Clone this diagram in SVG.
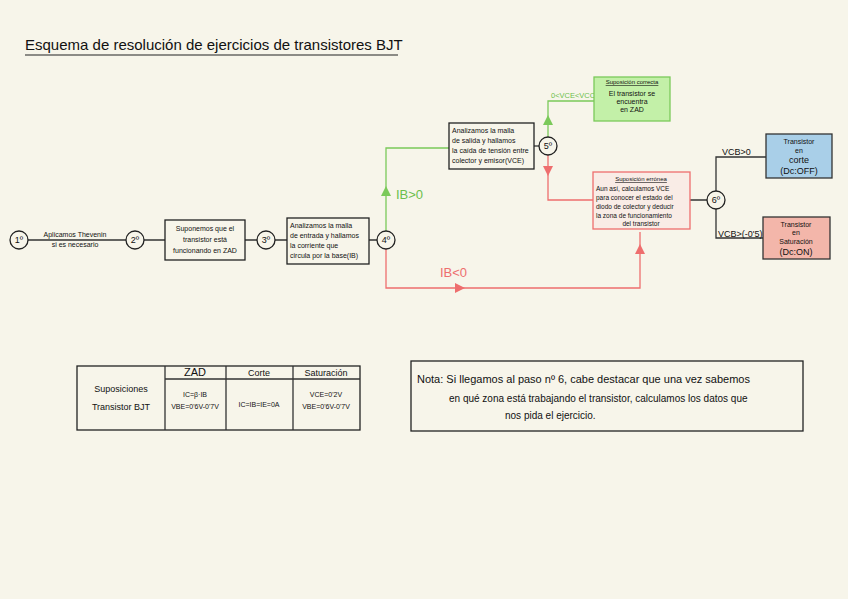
<svg xmlns="http://www.w3.org/2000/svg" width="848" height="599" viewBox="0 0 848 599">
<defs>
<style>
text{font-family:"Liberation Sans",Arial,sans-serif;fill:#111;}
.s{font-size:7px;} .m{font-size:9px;} .l{font-size:11px;}
.box{fill:none;stroke:#222;stroke-width:1.3;}
.c{fill:#f7f5ea;stroke:#222;stroke-width:1.3;}
.k{stroke:#333;stroke-width:1.3;fill:none;}
.g{stroke:#7bc95a;stroke-width:1.3;fill:none;}
.r{stroke:#ee6e6e;stroke-width:1.3;fill:none;}
</style>
</defs>
<rect width="848" height="599" fill="#f7f5ea"/>
<text x="25" y="50" style="font-size:15px">Esquema de resolución de ejercicios de transistores BJT</text>
<line x1="25" y1="55" x2="398" y2="55" stroke="#222" stroke-width="1.2"/>
<g id="connectors">
<path class="k" d="M28 240H126M144 240H165M245 240H257M275 240H287M369 240H377"/>
<path class="g" d="M386 231V148H449"/>
<polygon points="386,186 381,196 391,196" fill="#7bc95a"/>
<path class="r" d="M386 249V288H640V232"/>
<polygon points="465,288 455,283 455,293" fill="#ee6e6e"/>
<polygon points="640,244 635,254 645,254" fill="#ee6e6e"/>
<path class="k" d="M534 146H539"/>
<path class="g" d="M548 137V101H594"/>
<polygon points="548,115 543,125 553,125" fill="#7bc95a"/>
<path class="r" d="M548 155V200H593"/>
<polygon points="548,176 543,166 553,166" fill="#ee6e6e"/>
<path class="k" d="M690 200H707M716 191V157H766M716 209V238H763"/>
</g>
<g id="n1"><circle class="c" cx="19" cy="240" r="9"/><text x="19" y="243" class="m" text-anchor="middle">1º</text>
<text x="75" y="237" class="s" text-anchor="middle">Aplicamos Thevenin</text><text x="75" y="247" class="s" text-anchor="middle">si es necesario</text></g>
<g id="n2"><circle class="c" cx="135" cy="240" r="9"/><text x="135" y="243" class="m" text-anchor="middle">2º</text></g>
<g id="b2"><rect class="box" x="165" y="220" width="80" height="40"/>
<text x="205" y="231" class="s" text-anchor="middle">Suponemos que el</text><text x="205" y="242" class="s" text-anchor="middle">transistor está</text><text x="205" y="253" class="s" text-anchor="middle">funcionando en ZAD</text></g>
<g id="n3"><circle class="c" cx="266" cy="240" r="9"/><text x="266" y="243" class="m" text-anchor="middle">3º</text></g>
<g id="b3"><rect class="box" x="287" y="218" width="82" height="46"/>
<text x="290" y="228" class="s">Analizamos la malla</text><text x="290" y="238" class="s">de entrada y hallamos</text><text x="290" y="248" class="s">la corriente que</text><text x="290" y="258" class="s">circula por la base(IB)</text></g>
<g id="n4"><circle class="c" cx="386" cy="240" r="9"/><text x="386" y="243" class="m" text-anchor="middle">4º</text></g>
<text x="396" y="199" style="font-size:13px;fill:#6cbf4a">IB&gt;0</text>
<text x="440" y="277" style="font-size:13px;fill:#ee6e6e">IB&lt;0</text>
<g id="b5"><rect class="box" x="449" y="123" width="85" height="46"/>
<text x="452" y="133" class="s">Analizamos la malla</text><text x="452" y="143" class="s">de salida y hallamos</text><text x="452" y="153" class="s">la caída de tensión entre</text><text x="452" y="163" class="s">colector y emisor(VCE)</text></g>
<g id="n5"><circle class="c" cx="548" cy="146" r="9"/><text x="548" y="149" class="m" text-anchor="middle">5º</text></g>
<text x="551" y="98" style="font-size:7.5px;fill:#6cbf4a">0&lt;VCE&lt;VCC</text>
<g id="bg"><rect x="594" y="77" width="76" height="44" fill="#c3f0a8" stroke="#7bc95a" stroke-width="1.3"/>
<text x="632" y="84" class="s" text-anchor="middle" text-decoration="underline" style="font-size:6px">Suposición correcta</text>
<text x="632" y="96" class="s" text-anchor="middle">El transistor se</text><text x="632" y="104" class="s" text-anchor="middle">encuentra</text><text x="632" y="112" class="s" text-anchor="middle">en ZAD</text></g>
<g id="br"><rect x="593" y="172" width="97" height="57" fill="#f9ece6" stroke="#ee6e6e" stroke-width="1.3"/>
<text x="641" y="181" class="s" text-anchor="middle" text-decoration="underline" style="font-size:6px">Suposición errónea</text>
<text x="596" y="191" class="s" style="font-size:6.5px">Aun así, calculamos VCE</text><text x="596" y="200" class="s" style="font-size:6.5px">para conocer el estado del</text><text x="596" y="209" class="s" style="font-size:6.5px">diodo de colector y deducir</text><text x="596" y="218" class="s" style="font-size:6.5px">la zona de funcionamiento</text><text x="641" y="226" class="s" text-anchor="middle" style="font-size:6.5px">del transistor</text></g>
<g id="n6"><circle class="c" cx="716" cy="200" r="9"/><text x="716" y="203" class="m" text-anchor="middle">6º</text></g>
<text x="722" y="155" class="m">VCB&gt;0</text>
<text x="718" y="237" class="m">VCB&gt;(-0'5)</text>
<g id="bb"><rect x="766" y="134" width="66" height="44" fill="#a9cfe8" stroke="#333" stroke-width="1.3"/>
<text x="799" y="144" class="s" text-anchor="middle">Transistor</text><text x="799" y="153" class="s" text-anchor="middle">en</text><text x="799" y="163" class="m" text-anchor="middle">corte</text><text x="799" y="174" class="m" text-anchor="middle">(Dc:OFF)</text></g>
<g id="bp"><rect x="763" y="217" width="67" height="42" fill="#f3b6aa" stroke="#333" stroke-width="1.3"/>
<text x="796" y="227" class="s" text-anchor="middle">Transistor</text><text x="796" y="235" class="s" text-anchor="middle">en</text><text x="796" y="244" class="s" text-anchor="middle">Saturación</text><text x="796" y="255" class="m" text-anchor="middle">(Dc:ON)</text></g>
<g id="table">
<rect class="box" x="77" y="366" width="283" height="64"/>
<path class="k" d="M165 366V430M226 366V430M293 366V430M165 379H360"/>
<text x="195" y="376" class="l" text-anchor="middle">ZAD</text><text x="259" y="376" class="m" text-anchor="middle">Corte</text><text x="326" y="376" class="m" text-anchor="middle">Saturación</text>
<text x="121" y="392" class="m" text-anchor="middle">Suposiciones</text><text x="121" y="410" class="m" text-anchor="middle">Transistor BJT</text>
<text x="195" y="397" class="s" text-anchor="middle">IC=β·IB</text><text x="195" y="409" class="s" text-anchor="middle">VBE=0'6V-0'7V</text>
<text x="259" y="407" class="s" text-anchor="middle">IC=IB=IE=0A</text>
<text x="326" y="397" class="s" text-anchor="middle">VCE=0'2V</text><text x="326" y="409" class="s" text-anchor="middle">VBE=0'6V-0'7V</text>
</g>
<g id="note"><rect class="box" x="411" y="361" width="392" height="70"/>
<text x="417" y="383" class="l">Nota: Si llegamos al paso nº 6, cabe destacar que una vez sabemos</text>
<text x="449" y="402" style="font-size:10px">en qué zona está trabajando el transistor, calculamos los datos que</text>
<text x="505" y="419" style="font-size:10px">nos pida el ejercicio.</text></g>
</svg>
